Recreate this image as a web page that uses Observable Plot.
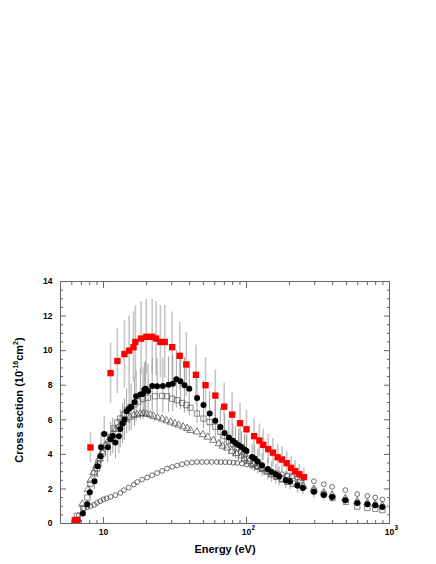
<!DOCTYPE html>
<html><head><meta charset="utf-8">
<script src="https://cdn.jsdelivr.net/npm/d3@7"></script>
<script src="https://cdn.jsdelivr.net/npm/@observablehq/plot@0.6"></script>
<style>body{margin:0;background:#fff}svg{display:block}</style>
</head><body><div id="chart"></div>
<script>
// Filled black circles
const blackE = [6.6,7.17,7.69,8.02,8.65,9.08,9.53,9.6,10.1,10.7,11.2,11.6,12.1,12.8,13.1,13.6,14.0,14.5,15.1,15.6,16.5,16.9,18.1,18.9,19.3,19.7,20.5,21.9,23.7,26.0,28.5,30.5,32.3,34.5,36.8,39.8,45.1,50.0,55.2,60.5,65.6,70.2,75.3,80.3,83.7,87.8,92.3,96.8,100,109.5,114,120,128.5,141,150,160,169,188,201,227,248,296,347,397,491,595,700,795,891];
const blackY = [0.19,0.58,1.12,1.81,2.45,3.31,3.89,4.41,5.18,4.41,4.87,5.06,4.68,5.05,5.47,5.78,6.01,6.49,6.66,6.74,7.03,7.36,7.46,7.51,7.75,7.8,7.67,7.96,7.94,7.96,8.03,8.09,8.34,8.23,8.0,7.8,7.26,6.86,6.36,5.95,5.58,5.24,4.97,4.78,4.66,4.54,4.43,4.28,4.2,3.85,3.76,3.58,3.37,3.16,2.98,2.85,2.73,2.5,2.45,2.2,2.06,1.83,1.65,1.54,1.35,1.19,1.12,1.06,0.96];
// Red filled squares
const redE = [6.3,6.55,8.1,11.2,12.5,14.0,15.1,16.2,16.7,18.3,19.9,21.9,23.3,25.0,26.8,30.2,34.1,37.9,44.3,51.7,60.5,69.8,79.3,90.1,100,113,123,131,142,153,165,177,191,205,219,234,252];
const redY = [0.2,0.2,4.4,8.7,9.4,9.8,10.0,10.2,10.5,10.7,10.8,10.8,10.7,10.5,10.5,10.2,9.7,9.2,8.6,8.0,7.4,6.76,6.3,5.8,5.45,5.05,4.8,4.55,4.3,4.1,3.83,3.7,3.49,3.22,3.02,2.85,2.68];
// Open squares
const sqE = [6.5,7.2,7.7,8.1,8.65,9.0,9.2,9.5,9.9,10.5,11.2,11.8,12.5,13.1,13.9,14.6,15.5,16.5,17.5,18.8,20.4,22.9,25.7,27.8,30.2,32.7,35.4,38,40.5,45,50,55.2,60.5,65.6,70.2,75.3,80.3,86,92,97,104,111,119,128,138,150,162,176,193,212,233,296,347,400,495,595,700,795,891];
const sqY = [0.45,0.9,1.5,2.3,2.9,3.18,3.41,3.76,4.05,4.5,5.0,5.5,5.85,6.07,6.3,6.55,6.75,6.9,7.05,7.2,7.28,7.36,7.38,7.36,7.22,7.13,6.97,6.85,6.7,6.36,6.07,5.87,5.6,5.3,5.05,4.8,4.6,4.35,4.15,4.0,3.75,3.45,3.3,3.15,3.0,2.85,2.7,2.55,2.42,2.3,2.2,1.9,1.7,1.48,1.25,0.98,0.9,0.85,0.78];
// Open triangles
const triE = [7.1,7.77,8.1,8.5,8.9,9.3,9.8,10.3,10.9,11.5,12.2,12.9,13.6,14.4,15.3,16.3,17.2,18.1,19.0,20.0,21.2,22.4,23.9,25.7,27.5,29.4,31.5,33.5,36,38.5,40.5,45,49.5,53.5,58.5,64,68,73,79,85,92,97,104,112,121,130,140,150,165,180,200,225,250,296,347,397,491,595,700,795,891];
const triY = [1.12,1.96,2.5,2.95,3.35,3.75,4.15,4.5,4.85,5.15,5.45,5.65,5.85,6.0,6.15,6.26,6.3,6.36,6.36,6.32,6.28,6.2,6.12,6.05,5.95,5.87,5.78,5.7,5.6,5.5,5.39,5.3,5.14,5.0,4.82,4.62,4.48,4.37,4.18,4.05,3.91,3.76,3.6,3.45,3.3,3.15,3.0,2.85,2.7,2.55,2.4,2.25,2.15,1.98,1.78,1.65,1.45,1.28,1.2,1.12,1.04];
// Open circles
const circE = [6.7,7.3,7.7,8.1,8.6,9.0,9.5,10.0,10.5,11.2,12.1,13.1,13.9,15.0,16.3,17.2,18.6,20.2,21.9,23.7,25.7,27.8,30.2,32.7,35.4,38.3,41.5,45,48.8,52.8,57,62,66,71,76,81,86,93,100,108,117,127,138,150,163,177,192,208,226,245,296,347,397,491,595,700,795,891];
const circY = [0.48,0.87,0.95,1.0,1.08,1.19,1.29,1.39,1.46,1.54,1.64,1.77,1.93,2.08,2.25,2.4,2.54,2.66,2.79,2.92,3.04,3.18,3.27,3.35,3.43,3.5,3.53,3.56,3.56,3.56,3.56,3.56,3.55,3.55,3.54,3.52,3.5,3.46,3.42,3.35,3.27,3.18,3.1,3.0,2.92,2.85,2.78,2.72,2.66,2.6,2.45,2.27,2.12,1.93,1.7,1.6,1.5,1.39];
// Relative size of the error bars
const errFrac = 0.2;

// Axis ticks and labels
const yMajor = [0,2,4,6,8,10,12,14];
const yMinor = [0.5,1,1.5,2.5,3,3.5,4.5,5,5.5,6.5,7,7.5,8.5,9,9.5,10.5,11,11.5,12.5,13,13.5];
const xMajor = [10,100,1000];
const xMinor = [6,7,8,9,20,30,40,50,60,70,80,90,200,300,400,500,600,700,800,900];
const xTickBase = ["10","10","10"];
const xTickExp = ["","2","3"];
const xLabel = "Energy (eV)";

const rows = (E, Y) => E.map((e, i) => ({E: e, v: Y[i]}));
const black = rows(blackE, blackY), red = rows(redE, redY), sq = rows(sqE, sqY), tri = rows(triE, triY), circ = rows(circE, circY);
const xTicks = xMajor.map((v, i) => ({v, base: xTickBase[i], exp: xTickExp[i]}));

const FONT = "'Liberation Sans', Arial, Helvetica, sans-serif";
const tickStroke = "#666";

const plot = Plot.plot({
  width: 436, height: 564,
  marginTop: 281, marginRight: 47, marginBottom: 41, marginLeft: 60,
  style: {background: "white", fontFamily: FONT, color: "#000"},
  x: {type: "log", domain: [5, 1000]},
  y: {domain: [0, 14]},
  marks: [
    Plot.ruleX(red, {x: "E", y1: d => d.v * (1 - errFrac), y2: d => d.v * (1 + errFrac), stroke: "#c6c6c6", strokeWidth: 1.6}),
    Plot.ruleX(black, {x: "E", y1: d => d.v * (1 - errFrac), y2: d => d.v * (1 + errFrac), stroke: "#9a9a9a", strokeWidth: 0.9}),
    Plot.dot(circ, {x: "E", y: "v", r: 2.4, stroke: "#333", strokeWidth: 0.7, fill: "white", fillOpacity: 0}),
    Plot.dot(tri, {x: "E", y: "v", symbol: "triangle", r: 2.7, stroke: "#444", strokeWidth: 0.7}),
    Plot.dot(sq, {x: "E", y: "v", symbol: "square", r: 3.0, stroke: "#555", strokeWidth: 0.7}),
    Plot.dot(black, {x: "E", y: "v", r: 3.0, fill: "#000"}),
    Plot.dot(red, {x: "E", y: "v", symbol: "square", r: 3.6, fill: "#ff0000"}),
    Plot.frame({stroke: tickStroke, strokeWidth: 1}),
    Plot.axisY(yMajor, {anchor: "left", tickSize: -6, stroke: tickStroke, fill: "none", label: null}),
    Plot.axisY(yMinor, {anchor: "left", tickSize: -3, stroke: tickStroke, fill: "none", label: null}),
    Plot.axisY(yMajor, {anchor: "right", tickSize: -6, stroke: tickStroke, fill: "none", label: null}),
    Plot.axisY(yMinor, {anchor: "right", tickSize: -3, stroke: tickStroke, fill: "none", label: null}),
    Plot.axisX(xMajor, {anchor: "bottom", tickSize: -6, stroke: tickStroke, fill: "none", label: null}),
    Plot.axisX(xMinor, {anchor: "bottom", tickSize: -3, stroke: tickStroke, fill: "none", label: null}),
    Plot.axisX(xMajor, {anchor: "top", tickSize: -6, stroke: tickStroke, fill: "none", label: null}),
    Plot.axisX(xMinor, {anchor: "top", tickSize: -3, stroke: tickStroke, fill: "none", label: null}),
    Plot.axisY(yMajor, {anchor: "left", tickSize: 0, tickPadding: 8, fill: "#000", label: null, fontSize: 8.5, fontWeight: "bold"}),
    Plot.text(xTicks, {x: "v", text: "base", frameAnchor: "bottom", dy: 11, fontSize: 8.5, fontWeight: "bold", fill: "#000"}),
    Plot.text(xTicks, {x: "v", text: "exp", frameAnchor: "bottom", dx: 5, dy: 6, textAnchor: "start", fontSize: 6.5, fontWeight: "bold", fill: "#000"}),
    Plot.text([xLabel], {frameAnchor: "bottom", dy: 29, fontSize: 11, fontWeight: "bold", fill: "#000"})
  ]
});

// Y axis title with superscripts
const svg = d3.select(plot);
const t = svg.append("text")
  .attr("transform", "translate(22.5,400) rotate(-90)")
  .attr("text-anchor", "middle")
  .attr("font-family", FONT)
  .attr("font-weight", "bold")
  .attr("font-size", 11)
  .attr("fill", "#000");
t.append("tspan").text("Cross section (10");
t.append("tspan").attr("font-size", 7).attr("dy", -4.5).text("-16");
t.append("tspan").attr("dy", 4.5).text("cm");
t.append("tspan").attr("font-size", 7).attr("dy", -4.5).text("2");
t.append("tspan").attr("dy", 4.5).text(")");

document.getElementById("chart").appendChild(plot);
</script>
</body></html>
